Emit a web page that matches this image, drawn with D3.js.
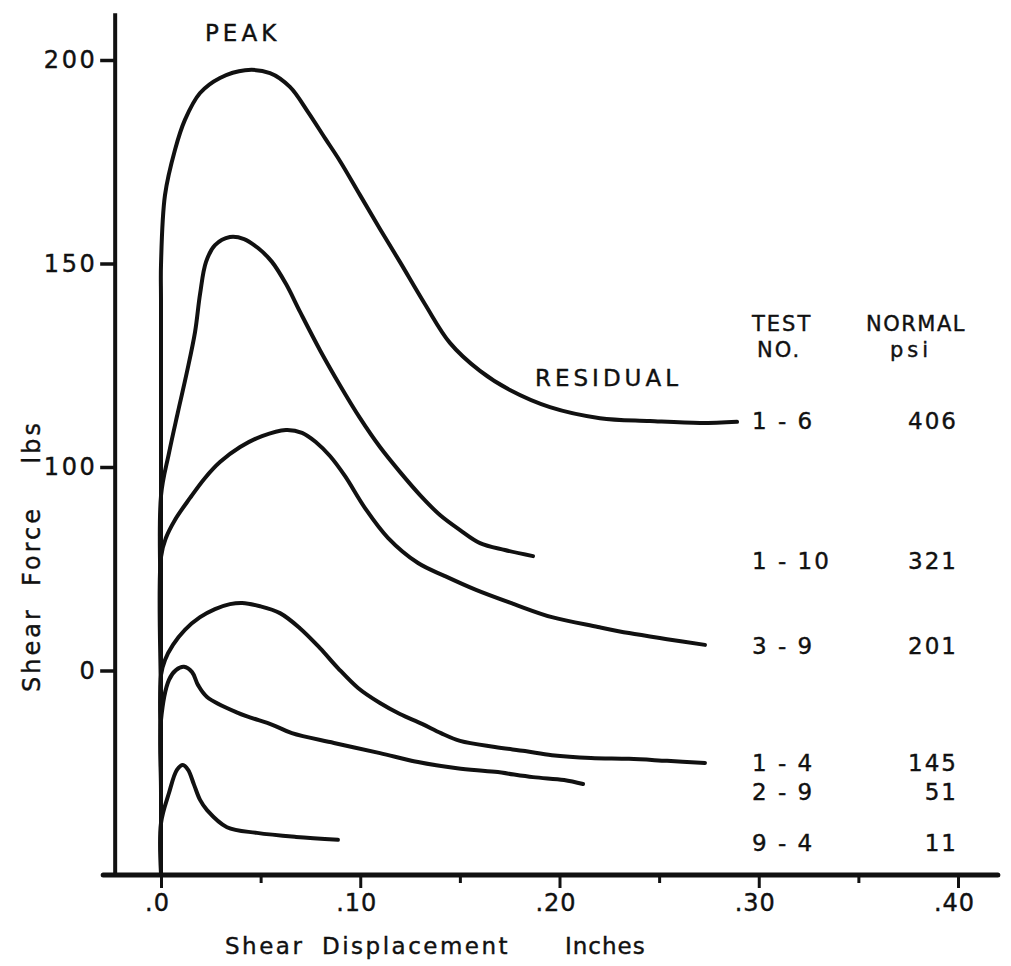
<!DOCTYPE html>
<html>
<head>
<meta charset="utf-8">
<script src="https://cdn.jsdelivr.net/npm/d3@7"></script>
<style>
  html, body { margin: 0; padding: 0; background: #fff; }
  svg { display: block; }
  text { font-family: "DejaVu Sans", "Liberation Sans", sans-serif; fill: #111; }
</style>
</head>
<body>
<svg id="chart" width="1011" height="966"></svg>
<script>
// ---------------- data ----------------
const xTickValues = [0, 0.1, 0.2, 0.3, 0.4];
const xTickLabels = [".0", ".10", ".20", ".30", ".40"];
const xMinorTicks = [0.05, 0.15, 0.25, 0.35];
const yTickValues = [50, 100, 150, 200];
const yTickLabels = ["0", "100", "150", "200"];

const testNames = ["1 - 6", "1 - 10", "3 - 9", "1 - 4", "2 - 9", "9 - 4"];
const normalPsi = ["406", "321", "201", "145", "51", "11"];

// [shear displacement (in), shear force (lbs)]
const test_1_6 = [[0,0],[0,104.2],[0,141.0],[0,149.6],[0.002,166.8],[0.007,177.9],[0.012,185.3],[0.0196,191.9],[0.0296,195.6],[0.0422,197.5],[0.0547,196.8],[0.0647,193.4],[0.0738,187.2],[0.0823,180.8],[0.0898,175.2],[0.0999,166.8],[0.1099,158.5],[0.1199,150.4],[0.1325,140.0],[0.145,130.5],[0.1601,123.6],[0.1751,118.9],[0.1952,114.7],[0.2203,112.0],[0.2454,111.3],[0.2705,110.8],[0.2891,111.1]];
const test_1_10 = [[0,0],[0,60],[0,92.9],[0.004,103.4],[0.0085,113.5],[0.013,123.3],[0.0171,133.2],[0.0196,142.5],[0.0226,150.4],[0.0271,154.5],[0.0346,156.5],[0.0417,156.0],[0.0487,153.8],[0.0557,150.4],[0.0627,145.0],[0.0698,138.1],[0.0798,128.7],[0.0898,120.1],[0.0999,112.0],[0.1099,104.9],[0.1199,98.8],[0.13,93.1],[0.14,88.2],[0.1501,84.5],[0.1601,81.3],[0.1726,79.6],[0.1867,78.1]];
const test_3_9 = [[0,0],[0,40],[0,77.9],[0.0025,82.6],[0.007,87.0],[0.0146,92.4],[0.0221,97.3],[0.0296,101.2],[0.0397,104.9],[0.0507,107.6],[0.0627,109.1],[0.0708,108.4],[0.0778,106.1],[0.0848,102.7],[0.0923,97.8],[0.1024,89.9],[0.1139,82.6],[0.129,76.4],[0.1425,73.2],[0.1581,69.8],[0.1772,66.3],[0.1962,63.1],[0.2193,60.7],[0.2349,59.2],[0.254,57.7],[0.273,56.3]];
const test_1_4 = [[0,0],[0,25],[0,48.9],[0.002,52.6],[0.006,56.3],[0.012,60.0],[0.0196,63.1],[0.0271,65.1],[0.0346,66.3],[0.0407,66.6],[0.0497,65.8],[0.0597,64.1],[0.0697,60.4],[0.0798,55.5],[0.0888,50.6],[0.0989,45.7],[0.1099,42.0],[0.1199,39.3],[0.131,36.9],[0.1405,34.6],[0.1501,32.7],[0.1676,31.2],[0.1827,30.2],[0.1962,29.2],[0.2158,28.5],[0.2349,28.3],[0.254,27.8],[0.273,27.3]];
const test_2_9 = [[0,0],[0,20],[0,37.8],[0.004,47.7],[0.0075,50.1],[0.0115,50.9],[0.0156,49.6],[0.0186,46.4],[0.0231,43.5],[0.0386,39.6],[0.0562,36.6],[0.0657,34.6],[0.0868,32.2],[0.1099,29.7],[0.129,27.5],[0.1486,26.0],[0.1676,25.1],[0.1867,23.8],[0.2023,23.1],[0.2118,22.1]];
const test_9_4 = [[0,0],[0,12.5],[0.004,19.9],[0.008,25.6],[0.011,26.8],[0.0136,25.6],[0.0166,21.9],[0.0196,18.2],[0.0231,15.7],[0.0331,11.5],[0.0482,10.1],[0.0678,9.1],[0.0888,8.4]];

const allSeries = [test_1_6, test_1_10, test_3_9, test_1_4, test_2_9, test_9_4];

// ---------------- layout ----------------
const svg = d3.select("#chart");
const x = d3.scaleLinear().domain([0, 0.4]).range([161, 958]);
const y = d3.scaleLinear().domain([0, 200]).range([874, 60]);

const axisX0 = -0.023;   // where the vertical axis stands
const axisXEnd = 0.42;
const axisYTop = 211.5;

const ink = "#111";

// vertical axis line
svg.append("line")
  .attr("x1", x(axisX0)).attr("x2", x(axisX0))
  .attr("y1", y(axisYTop)).attr("y2", y(0) + 3)
  .attr("stroke", ink).attr("stroke-width", 4);

// horizontal axis line
svg.append("line")
  .attr("x1", x(axisX0) - 12).attr("x2", x(axisXEnd))
  .attr("y1", y(0) + 1).attr("y2", y(0) + 1)
  .attr("stroke", ink).attr("stroke-width", 5)
  .attr("stroke-linecap", "round");

// y axis ticks + labels
const yAxis = d3.axisLeft(y)
  .tickValues(yTickValues)
  .tickSize(15)
  .tickPadding(3)
  .tickFormat((d, i) => yTickLabels[i]);
const gy = svg.append("g")
  .attr("transform", `translate(${x(axisX0)},0)`)
  .call(yAxis);
gy.select(".domain").remove();
gy.selectAll(".tick line").attr("stroke", ink).attr("stroke-width", 3.5);
gy.selectAll(".tick text")
  .attr("font-size", 24).attr("letter-spacing", 2.5)
  .attr("font-family", "DejaVu Sans").attr("fill", ink)
  .attr("stroke", ink).attr("stroke-width", 0.4);

// x axis major ticks + labels
const xAxis = d3.axisBottom(x)
  .tickValues(xTickValues)
  .tickSize(14)
  .tickPadding(6)
  .tickFormat((d, i) => xTickLabels[i]);
const gx = svg.append("g")
  .attr("transform", `translate(0,${y(0)})`)
  .call(xAxis);
gx.select(".domain").remove();
gx.selectAll(".tick line").attr("stroke", ink).attr("stroke-width", 3);
gx.selectAll(".tick text")
  .attr("font-size", 24).attr("letter-spacing", 1)
  .attr("font-family", "DejaVu Sans").attr("fill", ink)
  .attr("stroke", ink).attr("stroke-width", 0.4)
  .attr("dx", -4);

// x axis minor ticks
const xMinor = d3.axisBottom(x).tickValues(xMinorTicks).tickSize(9).tickFormat("");
const gxm = svg.append("g")
  .attr("transform", `translate(0,${y(0)})`)
  .call(xMinor);
gxm.select(".domain").remove();
gxm.selectAll(".tick line").attr("stroke", ink).attr("stroke-width", 3);

// curves
const line = d3.line()
  .x(d => x(d[0]))
  .y(d => y(d[1]))
  .curve(d3.curveCatmullRom.alpha(0.5));

svg.append("g").selectAll("path")
  .data(allSeries)
  .join("path")
  .attr("d", line)
  .attr("fill", "none")
  .attr("stroke", ink)
  .attr("stroke-width", 4)
  .attr("stroke-linejoin", "round")
  .attr("stroke-linecap", "round");

// annotations
const txt = (s, px, py, opts = {}) => svg.append("text")
  .attr("x", px).attr("y", py)
  .attr("font-size", opts.size || 23)
  .attr("letter-spacing", opts.ls != null ? opts.ls : 3)
  .attr("text-anchor", opts.anchor || "start")
  .attr("dominant-baseline", "central")
  .attr("stroke", ink).attr("stroke-width", 0.4)
  .style("white-space", "pre")
  .text(s);

txt("PEAK", 205, 33, {ls: 4});
txt("RESIDUAL", 535, 378, {ls: 4});
txt("TEST", 752, 324, {ls: 2, size: 21});
txt("NO.", 757, 350, {ls: 2, size: 21});
txt("NORMAL", 866, 324, {ls: 1.5, size: 21});
txt("psi", 890, 350, {ls: 4, size: 21});

const rowY = [421, 561, 646, 763, 792, 843];
testNames.forEach((t, i) => {
  txt(t, 752, rowY[i], {ls: 2});
  txt(normalPsi[i], 958, rowY[i], {anchor: "end", ls: 2});
});

// axis titles
txt("Shear", 225, 946, {ls: 2.5, size: 23});
txt("Displacement", 322, 946, {ls: 2.5, size: 23});
txt("Inches", 565, 946, {ls: 1, size: 23});
svg.append("text")
  .attr("transform", "translate(32,556) rotate(-90)")
  .attr("text-anchor", "middle")
  .attr("dominant-baseline", "central")
  .attr("font-size", 24)
  .attr("letter-spacing", 3)
  .attr("stroke", ink).attr("stroke-width", 0.4)
  .style("white-space", "pre")
  .text("Shear  Force    lbs");
</script>
</body>
</html>
